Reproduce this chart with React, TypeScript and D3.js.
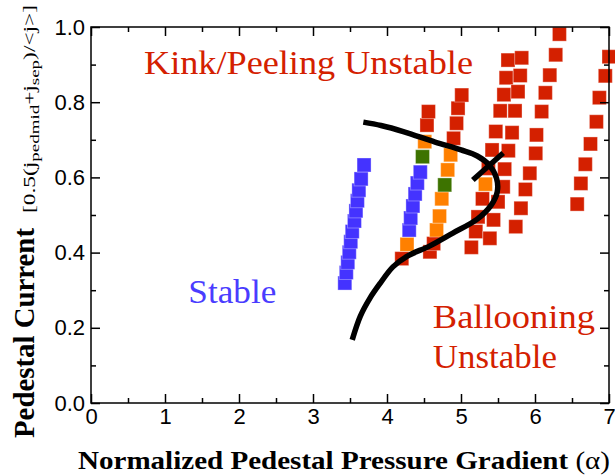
import React, { useEffect, useRef } from 'react'
import * as d3 from 'd3'

// [alpha, pedestal current]
const stablePts: [number, number][] = [
  [3.43, 0.319], [3.45, 0.347], [3.47, 0.374], [3.49, 0.401], [3.51, 0.429], [3.53, 0.456],
  [3.56, 0.484], [3.58, 0.511], [3.60, 0.538], [3.62, 0.566], [3.65, 0.596], [3.69, 0.633],
  [4.30, 0.46], [4.32, 0.492], [4.35, 0.524], [4.38, 0.556], [4.41, 0.585], [4.45, 0.614],
]
const orangePts: [number, number][] = [
  [4.27, 0.422], [4.51, 0.695],
  [4.67, 0.46], [4.71, 0.497], [4.74, 0.543], [4.82, 0.62], [4.86, 0.66],
  [5.33, 0.582],
]
const greenPts: [number, number][] = [[4.48, 0.655], [4.78, 0.58]]
const unstablePts: [number, number][] = [
  [4.20, 0.384], [4.54, 0.739], [4.56, 0.775],
  [4.58, 0.402], [4.63, 0.424], [4.90, 0.704], [4.94, 0.744], [4.96, 0.784], [5.01, 0.819],
  [5.635, 0.912], [5.61, 0.865], [5.58, 0.82], [5.53, 0.777], [5.47, 0.722], [5.42, 0.673],
  [5.37, 0.624], [5.29, 0.543], [5.23, 0.495], [5.20, 0.456], [5.14, 0.414],
  [5.82, 0.918], [5.80, 0.871], [5.77, 0.828], [5.73, 0.777], [5.69, 0.719], [5.64, 0.671],
  [5.59, 0.622], [5.57, 0.575], [5.50, 0.535], [5.44, 0.487], [5.39, 0.438],
  [6.33, 0.981], [6.28, 0.926], [6.20, 0.872], [6.14, 0.825], [6.09, 0.775], [6.02, 0.713],
  [6.01, 0.664], [5.93, 0.611], [5.87, 0.568], [5.81, 0.518], [5.74, 0.469],
  [7.00, 0.921], [6.95, 0.870], [6.87, 0.812], [6.83, 0.748], [6.75, 0.689], [6.68, 0.635],
  [6.62, 0.584], [6.57, 0.529],
]
// stability boundary
const boundary: [number, number][] = [
  [3.53, 0.168], [3.64, 0.231], [3.77, 0.279], [3.91, 0.319], [4.08, 0.362], [4.27, 0.390],
  [4.58, 0.418], [4.89, 0.452], [5.22, 0.489], [5.41, 0.527], [5.49, 0.562], [5.48, 0.598],
  [5.38, 0.633], [5.22, 0.657], [5.00, 0.673], [4.65, 0.694], [4.22, 0.722], [3.92, 0.738],
  [3.68, 0.747],
]
const crossMark: [number, number][] = [[5.16, 0.593], [5.57, 0.665]]

const xMajor = [0, 1, 2, 3, 4, 5, 6, 7]
const xMinor = [0.5, 1.5, 2.5, 3.5, 4.5, 5.5, 6.5]
const yMajor = [0, 0.2, 0.4, 0.6, 0.8, 1.0]
const yMinor = [0.1, 0.3, 0.5, 0.7, 0.9]

const RED = '#d42000'
const SERIF = 'Liberation Serif, Times New Roman, Times, serif'
const SANS = 'Liberation Sans, Arial, Helvetica, sans-serif'
const W = 615
const H = 475

const App = () => {
  const svgRef = useRef<SVGSVGElement>(null)

  const x = d3.scaleLinear().domain([0, 7]).range([91, 609])
  const y = d3.scaleLinear().domain([0, 1]).range([403, 27])

  useEffect(() => {
    const svg = d3.select(svgRef.current)

    const sq = 14
    const drawSquares = (cls: string, pts: [number, number][], fill: string) => {
      svg.select('.marks')
        .selectAll('.' + cls)
        .data(pts)
        .join('rect')
        .attr('class', cls)
        .attr('x', d => x(d[0]) - sq / 2)
        .attr('y', d => y(d[1]) - sq / 2)
        .attr('width', sq)
        .attr('height', sq)
        .attr('fill', fill)
        .attr('stroke', '#fff')
        .attr('stroke-opacity', 0.35)
        .attr('stroke-width', 1)
    }
    drawSquares('red', unstablePts, RED)
    drawSquares('orange', orangePts, '#ff8000')
    drawSquares('green', greenPts, '#3d7300')
    drawSquares('blue', stablePts, '#4433ff')

    const line = d3.line<[number, number]>()
      .x(d => x(d[0]))
      .y(d => y(d[1]))
      .curve(d3.curveCatmullRom.alpha(0.5))
    svg.select('.curve')
      .selectAll('path')
      .data([boundary, crossMark])
      .join('path')
      .attr('d', d => line(d))
      .attr('fill', 'none')
      .attr('stroke', '#000')
      .attr('stroke-width', 5.5)

    const fmt = d3.format('.1f')
    svg.select('.x-axis')
      .attr('transform', 'translate(0,403)')
      .call(d3.axisBottom(x).tickValues(xMajor).tickSize(-9).tickPadding(5).tickFormat(d3.format('d')) as any)
    svg.select('.x-minor')
      .attr('transform', 'translate(0,403)')
      .call(d3.axisBottom(x).tickValues(xMinor).tickSize(-5).tickFormat(() => '') as any)
    svg.select('.x-top')
      .attr('transform', 'translate(0,27)')
      .call(d3.axisTop(x).tickValues(xMajor).tickSize(-9).tickFormat(() => '') as any)
    svg.select('.x-top-minor')
      .attr('transform', 'translate(0,27)')
      .call(d3.axisTop(x).tickValues(xMinor).tickSize(-5).tickFormat(() => '') as any)
    svg.select('.y-axis')
      .attr('transform', 'translate(91,0)')
      .call(d3.axisLeft(y).tickValues(yMajor).tickSize(-9).tickPadding(6).tickFormat(d => fmt(d as number)) as any)
    svg.select('.y-minor')
      .attr('transform', 'translate(91,0)')
      .call(d3.axisLeft(y).tickValues(yMinor).tickSize(-5).tickFormat(() => '') as any)
    svg.select('.y-right')
      .attr('transform', 'translate(609,0)')
      .call(d3.axisRight(y).tickValues(yMajor).tickSize(-9).tickFormat(() => '') as any)
    svg.select('.y-right-minor')
      .attr('transform', 'translate(609,0)')
      .call(d3.axisRight(y).tickValues(yMinor).tickSize(-5).tickFormat(() => '') as any)

    svg.selectAll('.axis .domain').remove()
    svg.selectAll('.axis line').attr('stroke', '#000').attr('stroke-width', 1.5)
    svg.selectAll('.axis text')
      .attr('fill', '#000')
      .attr('font-family', SANS)
      .attr('font-size', 22)
  }, [])

  return (
    <svg ref={svgRef} width={W} height={H} style={{ position: 'absolute', left: 0, top: 0, background: '#fff' }}>
      <g className="marks" />
      <g className="curve" />
      <rect x={91} y={27} width={518} height={376} fill="none" stroke="#000" strokeWidth={1.5} />
      <g className="axis x-axis" />
      <g className="axis x-minor" />
      <g className="axis x-top" />
      <g className="axis x-top-minor" />
      <g className="axis y-axis" />
      <g className="axis y-minor" />
      <g className="axis y-right" />
      <g className="axis y-right-minor" />

      <g style={{ fontFamily: SERIF }}>
        <text x={x(0.716)} y={y(0.875)} fontSize={33} fill={RED} textLength={329} lengthAdjust="spacingAndGlyphs">
          Kink/Peeling Unstable
        </text>
        <text x={x(1.315)} y={y(0.265)} fontSize={34} fill="#4a3cff" textLength={88} lengthAdjust="spacingAndGlyphs">
          Stable
        </text>
        <text x={x(4.62)} y={y(0.2)} fontSize={34} fill={RED} textLength={162} lengthAdjust="spacingAndGlyphs">
          Ballooning
        </text>
        <text x={x(4.62)} y={y(0.092)} fontSize={34} fill={RED} textLength={124} lengthAdjust="spacingAndGlyphs">
          Unstable
        </text>
        <text x={78} y={469} fontSize={25} fontWeight="bold" textLength={532} lengthAdjust="spacingAndGlyphs">
          Normalized Pedestal Pressure Gradient <tspan fontWeight="normal">(α)</tspan>
        </text>
        <text transform="translate(34,438) rotate(-90)" fontSize={29} fontWeight="bold" textLength={210} lengthAdjust="spacingAndGlyphs">
          Pedestal Current
        </text>
        <text transform="translate(35,213) rotate(-90)" fontSize={16} textLength={208} lengthAdjust="spacingAndGlyphs">
          [0.5(j<tspan fontSize={13} dy={4}>pedmid</tspan><tspan dy={-4}>+j</tspan><tspan fontSize={13} dy={4}>sep</tspan><tspan dy={-4}>)/&lt;j&gt;]</tspan>
        </text>
      </g>
    </svg>
  )
}

export default App
